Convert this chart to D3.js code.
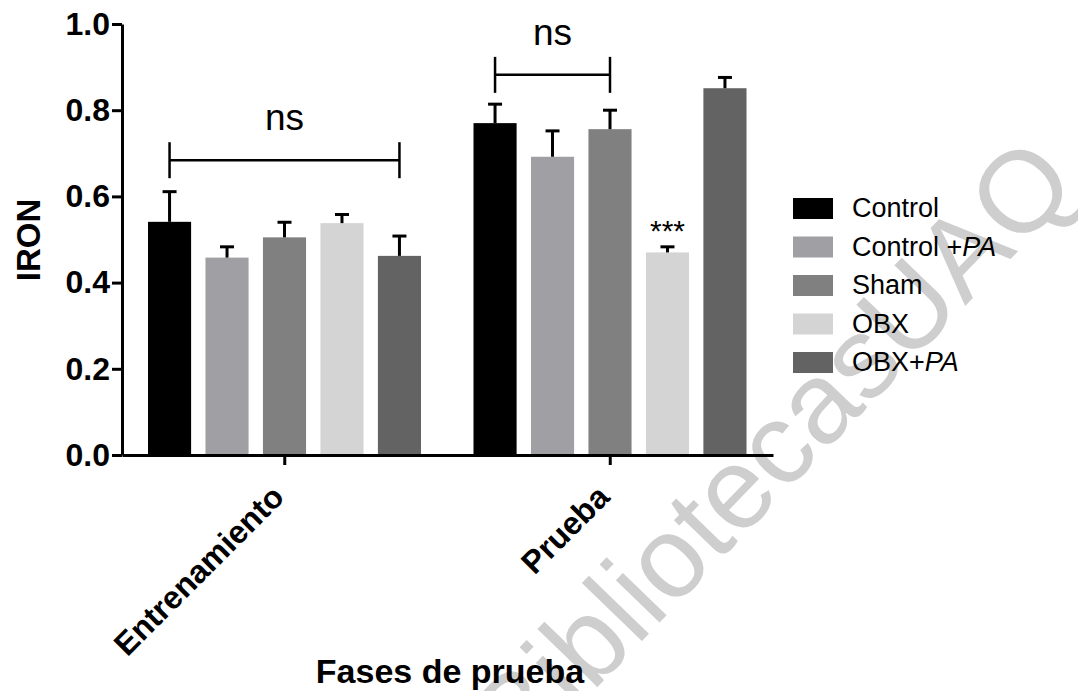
<!DOCTYPE html>
<html>
<head>
<meta charset="utf-8">
<script src="https://cdn.jsdelivr.net/npm/d3@7"></script>
<style>
  body { margin: 0; background: #fff; }
  svg text { font-family: "Liberation Sans", Arial, sans-serif; }
</style>
</head>
<body>
<div id="chart"></div>
<script>
/*  Data  */
var phases = ["Entrenamiento", "Prueba"];
var groups = ["Control", "Control +PA", "Sham", "OBX", "OBX+PA"];
var colors = ["#000000", "#a0a0a4", "#808080", "#d4d4d4", "#636363"];
var means  = {
  "Control":     [0.541, 0.770],
  "Control +PA": [0.458, 0.692],
  "Sham":        [0.505, 0.756],
  "OBX":         [0.538, 0.470],
  "OBX+PA":      [0.462, 0.851]
};
var errors = {
  "Control":     [0.070, 0.044],
  "Control +PA": [0.025, 0.060],
  "Sham":        [0.035, 0.044],
  "OBX":         [0.020, 0.013],
  "OBX+PA":      [0.046, 0.025]
};
var yTicks = [0, 0.2, 0.4, 0.6, 0.8, 1.0];
// significance brackets: phase, first group, last group, level, label
var brackets = [
  {phase: "Entrenamiento", from: "Control", to: "OBX+PA", y: 0.684, label: "ns"},
  {phase: "Prueba", from: "Control", to: "Sham", y: 0.882, label: "ns"}
];
var stars = [{phase: "Prueba", group: "OBX", label: "***"}];


/*  Setup  */
var W = 1078, H = 691;
var svg = d3.select("#chart").append("svg")
            .attr("width", W)
            .attr("height", H);

var y = d3.scaleLinear().domain([0, 1]).range([455, 24]);
var x0 = d3.scaleBand().domain(phases).range([122, 773]).padding(0);
var x1 = d3.scaleBand().domain(groups).range([26, 299]).paddingInner(0.25).paddingOuter(0);
var color = d3.scaleOrdinal().domain(groups).range(colors);

function barCenter(phase, g){ return x0(phase) + x1(g) + x1.bandwidth()/2; }

/*  Watermark (behind)  */
svg.append("text")
   .attr("transform", "translate(521,766) rotate(-46)")
   .style("font-size", "115px")
   .attr("fill", "#cecece")
   .text("BibliotecasUAQ");

/*  Bars  */
var rows = [];
phases.forEach(function(p, i){
  groups.forEach(function(g){
    rows.push({phase: p, group: g, value: means[g][i], err: errors[g][i]});
  });
});

svg.append("g").selectAll("rect")
   .data(rows).enter().append("rect")
   .attr("x", function(d){ return x0(d.phase) + x1(d.group); })
   .attr("y", function(d){ return y(d.value); })
   .attr("width", x1.bandwidth())
   .attr("height", function(d){ return y(0) - y(d.value); })
   .attr("fill", function(d){ return color(d.group); });

/*  Error bars (upper only)  */
var eb = svg.append("g").attr("stroke", "#000").attr("stroke-width", 3);
rows.forEach(function(d){
  var cx = barCenter(d.phase, d.group);
  eb.append("line")
    .attr("x1", cx).attr("x2", cx)
    .attr("y1", y(d.value)).attr("y2", y(d.value + d.err));
  eb.append("line")
    .attr("x1", cx - 7).attr("x2", cx + 7)
    .attr("y1", y(d.value + d.err)).attr("y2", y(d.value + d.err));
});

/*  Axes  */
var yAxis = svg.append("g")
   .attr("transform", "translate(122,0)")
   .call(d3.axisLeft(y).tickValues(yTicks).tickFormat(d3.format(".1f"))
           .tickSize(10).tickSizeOuter(0).tickPadding(2));
yAxis.selectAll("path, line").attr("stroke", "#000").attr("stroke-width", 3);
yAxis.selectAll("text")
   .style("font-size", "32px").style("font-weight", "bold").attr("fill", "#000");

var xAxis = svg.append("g")
   .attr("transform", "translate(0,455)")
   .call(d3.axisBottom(x0).tickSize(10).tickSizeOuter(0).tickFormat(""));
xAxis.selectAll("path, line").attr("stroke", "#000").attr("stroke-width", 3);

svg.append("g").selectAll("text")
   .data(phases).enter().append("text")
   .attr("transform", function(d){
      return "translate(" + (x0(d) + x0.bandwidth()/2 + 1) + ",499) rotate(-45)";
   })
   .attr("text-anchor", "end")
   .style("font-size", "32px")
   .style("font-weight", "bold")
   .text(function(d){ return d; });

svg.append("text")
   .attr("x", 450).attr("y", 683)
   .attr("text-anchor", "middle")
   .style("font-size", "34px").style("font-weight", "bold")
   .text("Fases de prueba");

svg.append("text")
   .attr("transform", "translate(40,240) rotate(-90)")
   .attr("text-anchor", "middle")
   .style("font-size", "33px").style("font-weight", "bold")
   .text("IRON");

/*  Significance  */
var sig = svg.append("g");
brackets.forEach(function(b){
  var xa = barCenter(b.phase, b.from), xb = barCenter(b.phase, b.to), yy = y(b.y);
  var l = sig.append("g").attr("stroke", "#000").attr("stroke-width", 2.5);
  l.append("line").attr("x1", xa).attr("x2", xb).attr("y1", yy).attr("y2", yy);
  l.append("line").attr("x1", xa).attr("x2", xa).attr("y1", yy - 18).attr("y2", yy + 18);
  l.append("line").attr("x1", xb).attr("x2", xb).attr("y1", yy - 18).attr("y2", yy + 18);
  sig.append("text")
     .attr("x", (xa + xb)/2).attr("y", yy - 30)
     .attr("text-anchor", "middle")
     .style("font-size", "37px")
     .text(b.label);
});
stars.forEach(function(s){
  var i = phases.indexOf(s.phase);
  var top = means[s.group][i] + errors[s.group][i];
  sig.append("text")
     .attr("x", barCenter(s.phase, s.group)).attr("y", y(top) - 6)
     .attr("text-anchor", "middle")
     .style("font-size", "30px")
     .text(s.label);
});

/*  Legend  */
var legend = svg.append("g").attr("transform", "translate(793,198)");
groups.forEach(function(g, i){
  var row = legend.append("g").attr("transform", "translate(0," + (i*38.5) + ")");
  row.append("rect").attr("width", 40).attr("height", 21).attr("fill", colors[i]);
  var t = row.append("text").attr("x", 59).attr("y", 19).style("font-size", "27px");
  if (g.indexOf("PA") !== -1){
    t.append("tspan").text(g.replace("PA", ""));
    t.append("tspan").style("font-style", "italic").text("PA");
  } else {
    t.text(g);
  }
});
</script>
</body>
</html>
